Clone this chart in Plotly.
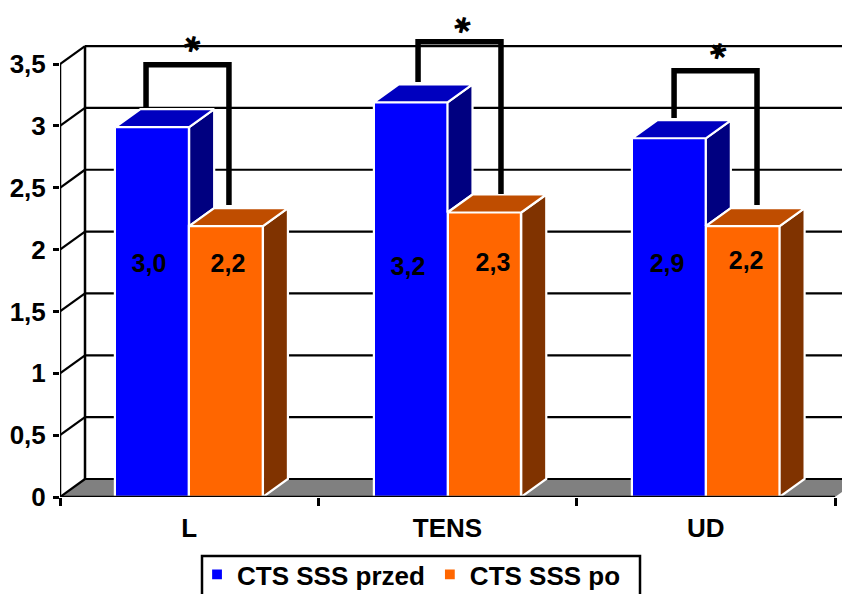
import plotly.graph_objects as go

categories = ["L", "TENS", "UD"]
centers = [0.5, 1.5, 2.5]
przed = [2.99, 3.19, 2.90]
po = [2.19, 2.30, 2.19]
y_ticks = [0, 0.5, 1, 1.5, 2, 2.5, 3, 3.5]
y_labels = ["0", "0,5", "1", "1,5", "2", "2,5", "3", "3,5"]

# significance brackets
br_left = [0.333, 1.386, 2.377]
br_right = [0.654, 1.707, 2.698]
br_top = [3.494, 3.680, 3.446]
br_left_end = [3.153, 3.355, 3.064]
br_right_end = [2.360, 2.449, 2.360]
star_x = [0.511, 1.556, 2.547]
star_y = [3.660, 3.810, 3.603]

# data label anchors
lab_przed_x = [0.3445, 1.347, 2.350]
lab_przed_y = [1.867, 1.843, 1.867]
lab_po_x = [0.650, 1.676, 2.656]
lab_po_y = [1.867, 1.876, 1.892]

BW = 0.2855      # bar width
DX = 0.0968      # depth (x units)
DY = 0.1455      # depth (value units)
XMAX = 3.0
X_END = 3.058
Y_END = 488 / 123.7

BLUE, BLUE_T, BLUE_S = "#0000FF", "#0000BF", "#000080"
ORG, ORG_T, ORG_S = "#FF6600", "#BF4D00", "#803300"
FONT = "Liberation Sans"


def fmt(v):
    return f"{v:.1f}".replace(".", ",")


def poly(xs, ys, color):
    return go.Scatter(x=xs, y=ys, mode="lines", fill="toself", fillcolor=color,
                      line=dict(color="white", width=2.2), showlegend=False,
                      hoverinfo="skip")


fig = go.Figure()
fig.add_trace(go.Bar(x=[c - BW / 2 for c in centers], y=przed, width=BW, name="CTS SSS przed",
                     marker=dict(color=BLUE, line=dict(color="white", width=2.2))))
fig.add_trace(go.Bar(x=[c + BW / 2 for c in centers], y=po, width=BW, name="CTS SSS po",
                     marker=dict(color=ORG, line=dict(color="white", width=2.2))))

for c, a, b in zip(centers, przed, po):
    x0, xm, x1 = c - BW, c, c + BW
    # blue side, cut where the orange block starts
    fig.add_trace(poly([xm, xm + DX, xm + DX, xm, xm], [a, a + DY, b + DY, b, a], BLUE_S))
    fig.add_trace(poly([x0, x0 + DX, xm + DX, xm, x0], [a, a + DY, a + DY, a, a], BLUE_T))
    fig.add_trace(poly([x1, x1 + DX, x1 + DX, x1, x1], [0, DY, b + DY, b, 0], ORG_S))
    fig.add_trace(poly([xm, xm + DX, x1 + DX, x1, xm], [b, b + DY, b + DY, b, b], ORG_T))

for xl, xr, t, le, re in zip(br_left, br_right, br_top, br_left_end, br_right_end):
    fig.add_trace(go.Scatter(x=[xl, xl, xr, xr], y=[le, t, t, re], mode="lines",
                             line=dict(color="black", width=5.5), showlegend=False,
                             hoverinfo="skip"))

fig.add_trace(go.Scatter(x=lab_przed_x + lab_po_x, y=lab_przed_y + lab_po_y, mode="text",
                         text=[fmt(v) for v in przed + po],
                         textfont=dict(family=FONT, size=25, color="black"),
                         texttemplate="<b>%{text}</b>", showlegend=False, hoverinfo="skip"))

# axis lines drawn over the bars and not clipped
fig.add_trace(go.Scatter(x=[0, XMAX], y=[0, 0], mode="lines", cliponaxis=False,
                         line=dict(color="black", width=2.5), showlegend=False, hoverinfo="skip"))
fig.add_trace(go.Scatter(x=[0, 0], y=[0, 3.5], mode="lines", cliponaxis=False,
                         line=dict(color="black", width=2.5), showlegend=False, hoverinfo="skip"))

shapes = [
    dict(type="path", layer="below", line=dict(width=0), fillcolor="#808080",
         path=f"M0,0 L{DX},{DY} L{XMAX + DX},{DY} L{XMAX},0 Z"),
    dict(type="line", layer="below", x0=DX, x1=DX, y0=DY, y1=3.5 + DY,
         line=dict(color="black", width=2.5)),
]
for v in y_ticks:
    shapes.append(dict(type="line", layer="below", x0=DX, x1=XMAX + DX, y0=v + DY, y1=v + DY,
                       line=dict(color="black", width=2.2)))
    shapes.append(dict(type="line", layer="below", x0=0, x1=DX, y0=v, y1=v + DY,
                       line=dict(color="black", width=2.2)))
# legend frame, running off the page as in the reference
shapes.append(dict(type="rect", xref="paper", yref="paper", layer="below",
                   x0=(202 - 60) / 790, x1=(640 - 60) / 790,
                   y0=-110 / 488, y1=-59 / 488, line=dict(color="black", width=2.5),
                   fillcolor="white"))

annotations = [
    dict(x=x, y=y, text="✱", showarrow=False, font=dict(family="DejaVu Sans", size=22, color="black"),
         yanchor="middle", xanchor="center", textangle=15)
    for x, y in zip(star_x, star_y)
]

fig.update_layout(
    width=842, height=586, autosize=False,
    margin=dict(l=52, r=0, t=1, b=97),
    paper_bgcolor="white", plot_bgcolor="white",
    barmode="overlay", bargap=0,
    font=dict(family=FONT, size=24, color="black"),
    shapes=shapes, annotations=annotations,
    hovermode=False,
    xaxis=dict(range=[0, X_END], tickmode="array", tickvals=centers, ticktext=categories,
               ticks="", showgrid=False, zeroline=False, showline=False, automargin=False,
               tickfont=dict(family=FONT, size=26, weight="bold"),
               ticklabelstandoff=13,
               minor=dict(tickmode="array", tickvals=[0, 1, 2, 3], ticks="outside",
                          ticklen=8, tickwidth=2.5, tickcolor="black", showgrid=False)),
    yaxis=dict(range=[0, Y_END], tickmode="array", tickvals=y_ticks, ticktext=y_labels,
               ticks="outside", ticklen=6, tickwidth=2.5, tickcolor="black",
               showgrid=False, zeroline=False, showline=False, automargin=False,
               tickfont=dict(family=FONT, size=26, weight="bold"), ticklabelstandoff=2),
    legend=dict(orientation="h", xref="container", yref="container",
                x=0.2245, y=0.0734, xanchor="left", yanchor="top",
                bgcolor="rgba(0,0,0,0)", borderwidth=0,
                font=dict(family=FONT, size=26, weight="bold", color="black")),
)

fig.write_html("out.html")
